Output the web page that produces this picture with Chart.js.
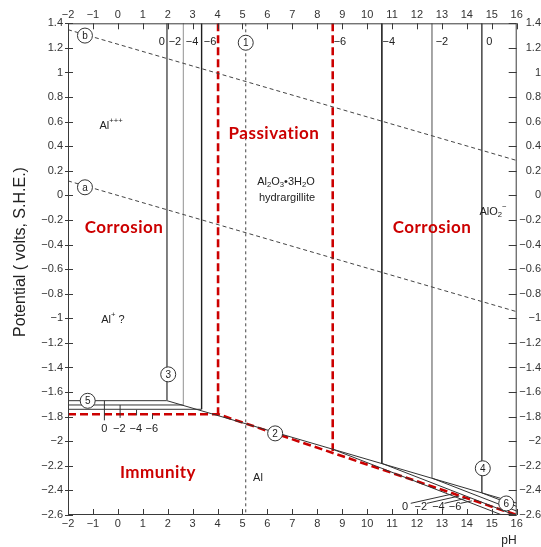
<!DOCTYPE html>
<html>
<head>
<meta charset="utf-8">
<script src="https://cdn.jsdelivr.net/npm/chart.js@4.4.1/dist/chart.umd.min.js"></script>
<style>
  html, body { margin: 0; padding: 0; background: #fff; }
  canvas { display: block; }
</style>
</head>
<body>
<canvas id="pourbaix" width="541" height="547"></canvas>
<script>
// ---- Aluminium–water potential/pH diagram, 25 °C ----
const pHRange = [-2, 16];
const potentialRange = [-2.6, 1.4];
const logActivity = [0, -2, -4, -6];

// Water stability: (b) oxygen evolution, (a) hydrogen evolution
const oxygenLine = [[-2, 1.348], [16, 0.284]];
const hydrogenLine = [[-2, 0.118], [16, -0.946]];

// Line 1
const line1 = [[5.13, 1.4], [5.13, -2.6]];

// Al+++ / Al2O3·3H2O boundaries (lines 3), one per log activity
const acidSidePH = [1.97, 2.63, 3.36, 4.02];
// Al+++ / Al equilibria (lines 5)
const al3AlPotential = [-1.67, -1.705, -1.74, -1.78];

// Al2O3·3H2O / AlO2- boundaries (lines 4), one per log activity
const alkalineSidePH = [14.6, 12.6, 10.59, 8.62];
const alkalineFootE = [-2.42, -2.30, -2.18, -2.065];
// AlO2- / Al equilibria (lines 6): end point of each line
const aluminateEnd = [[16, -2.53], [16, -2.568], [15.92, -2.6], [15.41, -2.6]];

// Al2O3·3H2O / Al (line 2)
const oxideMetalLine = [[1.97, -1.67], [16, -2.503]];

// Domain boundaries: immunity / corrosion / passivation (the 10^-6 set)
const immunityBoundary = [[-2, al3AlPotential[3]], [acidSidePH[3], al3AlPotential[3]], [16, -2.6]];
const passivationLeft = [[acidSidePH[3], 1.4], [acidSidePH[3], al3AlPotential[3]]];
const passivationRight = [[alkalineSidePH[3], 1.4], [alkalineSidePH[3], -2.08]];

const RED = '#cc0000';

function segment(points, color, width, dash) {
  return {
    data: points.map(([x, y]) => ({ x, y })),
    borderColor: color,
    borderWidth: width,
    borderDash: dash || [],
    showLine: true,
    pointRadius: 0,
    pointHoverRadius: 0,
    fill: false,
    tension: 0
  };
}

const acidColors = ['#6e6e6e', '#a8a8a8', '#1e1e1e'];
const alkalineColors = ['#555', '#9a9a9a', '#2a2a2a'];
// the 10^-6 boundaries are drawn by the red domain lines
const thin = logActivity.map((c, i) => i).filter(i => logActivity[i] !== -6);

const datasets = [
  segment(oxygenLine, '#444', 1, [4, 3]),
  segment(hydrogenLine, '#444', 1, [4, 3]),
  segment(line1, '#444', 1, [3, 3]),
  ...thin.map(i => segment([[acidSidePH[i], potentialRange[1]], [acidSidePH[i], al3AlPotential[i]]], acidColors[i], i === 2 ? 1.4 : 1)),
  ...thin.map(i => segment([[pHRange[0], al3AlPotential[i]], [acidSidePH[i], al3AlPotential[i]]], '#333', 1)),
  segment(oxideMetalLine, '#333', 1),
  ...thin.map(i => segment([[alkalineSidePH[i], potentialRange[1]], [alkalineSidePH[i], alkalineFootE[i]]], alkalineColors[i], 1)),
  ...alkalineSidePH.map((p, i) => segment([[p, alkalineFootE[i]], aluminateEnd[i]], '#333', 1)),
  segment(immunityBoundary, RED, 2.6, [8, 4]),
  segment(passivationLeft, RED, 2.6, [8, 4]),
  segment(passivationRight, RED, 2.6, [8, 4])
];

const fmt = v => (v < 0 ? '\u2212' : '') + String(Math.abs(v));
const fmtPH = v => Number.isInteger(v) ? fmt(v) : '';
const fmtE = v => fmt(Math.round(v * 10) / 10);

const TICK_FONT = { family: 'Liberation Sans', size: 11 };
const SANS = '"Liberation Sans", Arial, sans-serif';
const BOLD = 'bold 17px Lato, "Open Sans", sans-serif';

// Draws text runs with optional sub/superscripts, centred on (x, y)
function richText(ctx, runs, x, y, size) {
  const parts = runs.map(r => {
    const s = r.sub || r.sup ? size * 0.7 : size;
    ctx.font = s + 'px ' + SANS;
    return { ...r, s, w: ctx.measureText(r.t).width };
  });
  const total = parts.reduce((a, p) => a + p.w, 0);
  let cx = x - total / 2;
  ctx.textAlign = 'left';
  ctx.textBaseline = 'middle';
  parts.forEach(p => {
    ctx.font = p.s + 'px ' + SANS;
    const dy = p.sub ? size * 0.3 : p.sup ? -size * 0.45 : 0;
    ctx.fillText(p.t, cx, y + dy);
    cx += p.w;
  });
}

// Numbered and lettered line markers
const markers = [
  ['b', -1.32, 1.30], ['a', -1.32, 0.066], ['1', 5.13, 1.242],
  ['3', 2.02, -1.456], ['5', -1.21, -1.671], ['2', 6.31, -1.936],
  ['4', 14.64, -2.22], ['6', 15.58, -2.506]
];

// log-activity captions: [text, pH, E]
const activityCaptions = [
  ['0', 1.76, 1.25], ['\u22122', 2.29, 1.25], ['\u22124', 2.98, 1.25], ['\u22126', 3.70, 1.25],
  ['\u22126', 8.91, 1.25], ['\u22124', 10.87, 1.25], ['\u22122', 13.0, 1.25], ['0', 14.9, 1.25],
  ['0', -0.54, -1.903], ['\u22122', 0.06, -1.903], ['\u22124', 0.72, -1.903], ['\u22126', 1.36, -1.903],
  ['0', 11.52, -2.533], ['\u22122', 12.15, -2.533], ['\u22124', 12.86, -2.533], ['\u22126', 13.53, -2.533]
];
// leader strokes tying captions to their lines: [pH1, E1, pH2, E2]
const leaders = [
  [-0.54, -1.67, -0.54, -1.83], [0.09, -1.705, 0.09, -1.81],
  [0.75, -1.745, 0.75, -1.79], [1.39, -1.78, 1.39, -1.82],
  [11.75, -2.505, 13.4, -2.43], [12.4, -2.505, 13.7, -2.445],
  [13.1, -2.505, 13.95, -2.465], [13.75, -2.505, 14.2, -2.485]
];

const decor = {
  id: 'decor',
  afterDatasetsDraw(chart) {
    const { ctx, chartArea: a, scales: { x, y } } = chart;
    const px = v => x.getPixelForValue(v);
    const py = v => y.getPixelForValue(v);
    ctx.save();

    // frame and tick marks
    ctx.strokeStyle = '#3a3a3a';
    ctx.lineWidth = 1;
    ctx.setLineDash([]);
    ctx.strokeRect(a.left + 0.5, a.top + 0.5, a.right - a.left - 1, a.bottom - a.top - 1);
    ctx.beginPath();
    x.ticks.forEach(t => {
      const X = Math.round(px(t.value)) + 0.5;
      ctx.moveTo(X, a.bottom); ctx.lineTo(X, a.bottom - 6);
      ctx.moveTo(X, a.top); ctx.lineTo(X, a.top + 6);
    });
    y.ticks.forEach(t => {
      const Y = Math.round(py(t.value)) + 0.5;
      ctx.moveTo(a.left - 3, Y); ctx.lineTo(a.left + 5, Y);
      ctx.moveTo(a.right, Y); ctx.lineTo(a.right - 8, Y);
    });
    ctx.stroke();

    // leaders
    ctx.strokeStyle = '#333';
    ctx.beginPath();
    leaders.forEach(([p1, e1, p2, e2]) => {
      ctx.moveTo(px(p1), py(e1)); ctx.lineTo(px(p2), py(e2));
    });
    ctx.stroke();

    // markers
    markers.forEach(([t, p, e]) => {
      ctx.beginPath();
      ctx.arc(px(p), py(e), 7.5, 0, Math.PI * 2);
      ctx.fillStyle = '#fff';
      ctx.fill();
      ctx.strokeStyle = '#333';
      ctx.lineWidth = 1;
      ctx.stroke();
      ctx.fillStyle = '#222';
      ctx.font = '10px ' + SANS;
      ctx.textAlign = 'center';
      ctx.textBaseline = 'middle';
      ctx.fillText(t, px(p), py(e) + 0.5);
    });

    // activity captions
    ctx.fillStyle = '#222';
    ctx.font = '11px ' + SANS;
    ctx.textAlign = 'center';
    ctx.textBaseline = 'middle';
    activityCaptions.forEach(([t, p, e]) => ctx.fillText(t, px(p), py(e)));

    // species
    ctx.fillStyle = '#222';
    richText(ctx, [{ t: 'Al' }, { t: '+++', sup: true }], 111, 126, 11);
    richText(ctx, [{ t: 'Al' }, { t: '+', sup: true }, { t: ' ?' }], 113, 320, 11);
    richText(ctx, [{ t: 'Al' }, { t: '2', sub: true }, { t: 'O' }, { t: '3', sub: true },
                   { t: '\u20223H' }, { t: '2', sub: true }, { t: 'O' }], 286, 182, 11);
    richText(ctx, [{ t: 'hydrargillite' }], 287, 198, 11);
    richText(ctx, [{ t: 'AlO' }, { t: '2', sub: true }, { t: '\u2212', sup: true }], 493, 212, 11);
    richText(ctx, [{ t: 'Al' }], 258, 478, 11);

    // domain names
    ctx.fillStyle = RED;
    ctx.font = BOLD;
    ctx.letterSpacing = '0.5px';
    ctx.textAlign = 'center';
    ctx.textBaseline = 'middle';
    ctx.fillText('Passivation', 274, 134);
    ctx.fillText('Corrosion', 124, 228);
    ctx.fillText('Corrosion', 432, 228);
    ctx.fillText('Immunity', 158, 473);
    ctx.letterSpacing = '0px';

    // axis titles
    ctx.fillStyle = '#222';
    ctx.font = '16px ' + SANS;
    ctx.save();
    ctx.translate(21, 252);
    ctx.rotate(-Math.PI / 2);
    ctx.fillText('Potential ( volts, S.H.E.)', 0, 0);
    ctx.restore();
    ctx.font = '12px ' + SANS;
    ctx.fillText('pH', 509, 541);

    ctx.restore();
  }
};

const phAxis = (position, size) => ({
  type: 'linear', position, min: pHRange[0], max: pHRange[1],
  grid: { display: false, drawTicks: false }, border: { display: false },
  ticks: { stepSize: 1, autoSkip: false, maxRotation: 0, padding: 2, color: '#333', font: TICK_FONT, callback: fmtPH },
  afterFit: s => { s.height = size; }
});
const eAxis = (position, size, extra) => ({
  type: 'linear', position, min: potentialRange[0], max: potentialRange[1],
  grid: { display: false, drawTicks: false }, border: { display: false },
  ticks: Object.assign({ stepSize: 0.2, autoSkip: false, padding: 5, color: '#333', font: TICK_FONT, callback: fmtE }, extra),
  afterFit: s => { s.width = size; }
});

new Chart(document.getElementById('pourbaix'), {
  type: 'scatter',
  data: { datasets },
  options: {
    responsive: false,
    animation: false,
    devicePixelRatio: 1,
    layout: { padding: 0 },
    plugins: { legend: { display: false }, tooltip: { enabled: false } },
    events: [],
    scales: {
      x: phAxis('bottom', 32),
      x2: phAxis('top', 23.3),
      y: eAxis('left', 68),
      y2: eAxis('right', 24.3, { crossAlign: 'far', padding: 10 })
    }
  },
  plugins: [decor]
});
</script>
</body>
</html>
